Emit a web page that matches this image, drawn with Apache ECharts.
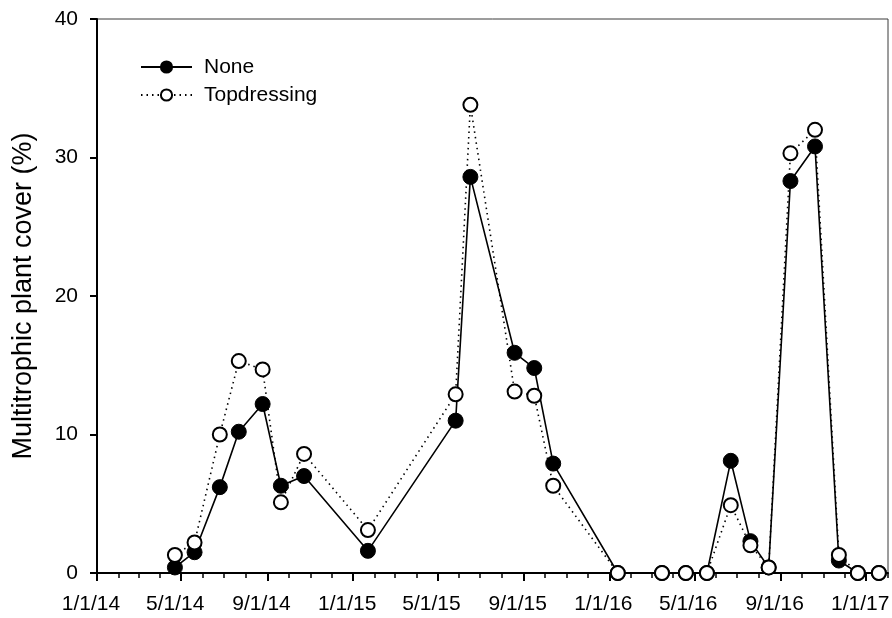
<!DOCTYPE html>
<html>
<head>
<meta charset="utf-8">
<script src="https://cdn.jsdelivr.net/npm/echarts@6/dist/echarts.min.js"></script>
<style>
html,body{margin:0;padding:0;background:#fff;}
#chart{width:892px;height:618px;}
</style>
</head>
<body>
<div id="chart"></div>
<script>
// ---- data ----
const sampleDates = ['2014-04-22','2014-05-20','2014-06-25','2014-07-22','2014-08-25','2014-09-20','2014-10-23',
  '2015-01-22','2015-05-27','2015-06-17','2015-08-19','2015-09-16','2015-10-13',
  '2016-01-13','2016-03-16','2016-04-19','2016-05-19','2016-06-22','2016-07-20','2016-08-15','2016-09-15','2016-10-20','2016-11-23','2016-12-20','2017-01-19'];
const noneCover = [0.4,1.5,6.2,10.2,12.2,6.3,7.0, 1.6,11.0,28.6,15.9,14.8,7.9, 0,0,0,0,8.1,2.3,0.4,28.3,30.8,0.9,0,0];
const topdressingCover = [1.3,2.2,10.0,15.3,14.7,5.1,8.6, 3.1,12.9,33.8,13.1,12.8,6.3, 0,0,0,0,4.9,2.0,0.4,30.3,32.0,1.3,0,0];
const seriesNames = ['None','Topdressing'];
const xMajorTickDates = ['2014-01-01','2014-05-01','2014-09-01','2015-01-01','2015-05-01','2015-09-01','2016-01-01','2016-05-01','2016-09-01','2017-01-01'];
const xStart = '2014-01-01';
const xEnd = '2017-02-01';
const yTicks = [0,10,20,30,40];
const yTitle = 'Multitrophic plant cover (%)';

function ts(s){ const p = s.split('-').map(Number); return Date.UTC(p[0], p[1]-1, p[2]); }
function fmt(v){ const d = new Date(v); return (d.getUTCMonth()+1) + '/' + d.getUTCDate() + '/' + String(d.getUTCFullYear()).slice(2); }
// monthly minor ticks
const monthTicks = [];
{
  const s = new Date(ts(xStart)), e = ts(xEnd);
  let y = s.getUTCFullYear(), m = s.getUTCMonth();
  while (Date.UTC(y, m, 1) <= e) { monthTicks.push(Date.UTC(y, m, 1)); m++; if (m > 11) { m = 0; y++; } }
}
const majors = xMajorTickDates.map(ts);

const chart = echarts.init(document.getElementById('chart'), null, {renderer:'canvas'});
const font = 'Liberation Sans, Arial, sans-serif';
chart.setOption({
  animation:false,
  backgroundColor:'#fff',
  grid:{left:97, right:4, top:19, bottom:45, show:true, borderColor:'#3a3a3a', borderWidth:1, containLabel:false, outerBoundsMode:'none'},
  legend:{
    orient:'vertical', left:140, top:56, padding:0, itemGap:6,
    itemWidth:51, itemHeight:14,
    textStyle:{fontFamily:font, fontSize:21, color:'#000', lineHeight:22, padding:[0,0,0,7]},
    data:seriesNames
  },
  xAxis:[{
    type:'value', min:ts(xStart), max:ts(xEnd),
    axisLine:{show:true, onZero:false, lineStyle:{color:'#000', width:2}},
    axisTick:{show:true, length:8, lineStyle:{color:'#000', width:2}, customValues:majors},
    axisLabel:{show:true, customValues:majors, formatter:fmt, fontFamily:font, fontSize:21, color:'#000', margin:21, padding:[0,12,0,0], showMinLabel:true, showMaxLabel:true, hideOverlap:false},
    splitLine:{show:false}
  },{
    type:'value', min:ts(xStart), max:ts(xEnd), position:'bottom',
    axisLine:{show:false},
    axisTick:{show:true, length:5, lineStyle:{color:'#000', width:1.5}, customValues:monthTicks},
    axisLabel:{show:false},
    splitLine:{show:false}
  }],
  yAxis:{
    type:'value', min:yTicks[0], max:yTicks[yTicks.length-1], interval:yTicks[1]-yTicks[0],
    name:yTitle, nameLocation:'middle', nameGap:60, nameRotate:90,
    nameTextStyle:{fontFamily:font, fontSize:27, color:'#000'},
    axisLine:{show:true, onZero:false, lineStyle:{color:'#000', width:2}},
    axisTick:{show:true, length:7, lineStyle:{color:'#000', width:2}},
    axisLabel:{fontFamily:font, fontSize:21, color:'#000', margin:19},
    splitLine:{show:false}
  },
  series:[{
    name:seriesNames[0], type:'line', xAxisIndex:0,
    data:sampleDates.map((d,i)=>[ts(d), noneCover[i]]),
    symbol:'circle', symbolSize:15,
    lineStyle:{color:'#000', width:1.6, type:'solid'},
    itemStyle:{color:'#000', borderColor:'#000', borderWidth:1},
    z:2
  },{
    name:seriesNames[1], type:'line', xAxisIndex:0,
    data:sampleDates.map((d,i)=>[ts(d), topdressingCover[i]]),
    symbol:'circle', symbolSize:14,
    lineStyle:{color:'#000', width:1.6, type:[1.5,4]},
    itemStyle:{color:'#fff', borderColor:'#000', borderWidth:2},
    z:3
  }]
});
</script>
</body>
</html>
